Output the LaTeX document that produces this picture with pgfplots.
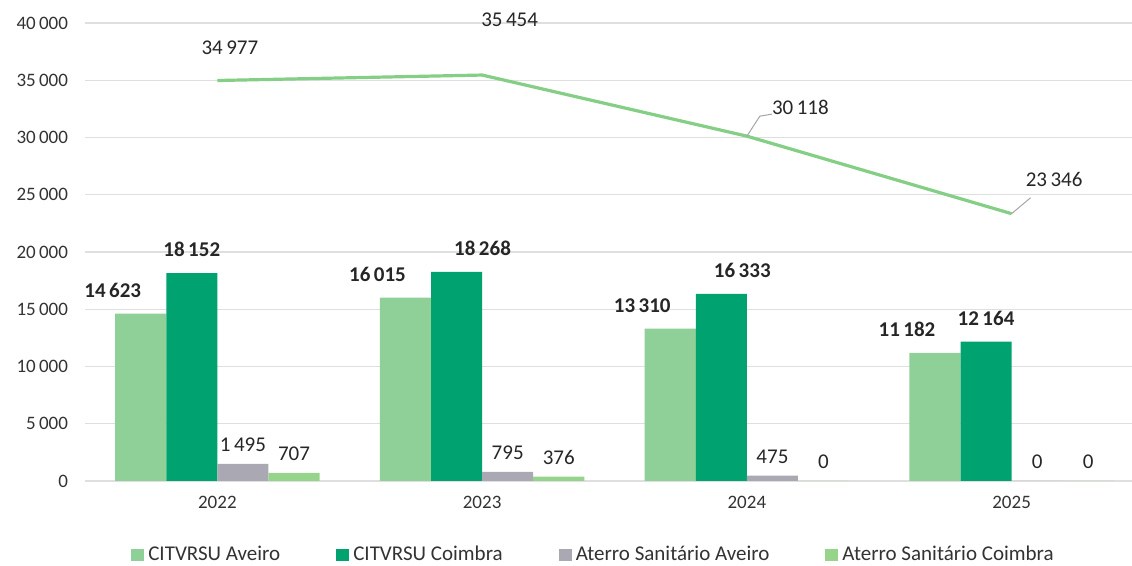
\documentclass[border=0pt]{standalone}
\usepackage{pgfplots}
\pgfplotsset{compat=1.18}
\usepackage{fontspec}
\setmainfont{Carlito}

\definecolor{cavr}{RGB}{143,207,152}
\definecolor{ccbr}{RGB}{0,162,112}
\definecolor{aavr}{RGB}{170,168,178}
\definecolor{acbr}{RGB}{150,212,140}
\definecolor{tline}{RGB}{132,206,134}

\begin{document}
\begin{tikzpicture}
\begin{axis}[
    scale only axis,
    width=529.5pt, height=229pt,
    ybar=0pt,
    bar width=0.193,
    xmin=-0.5, xmax=3.5,
    ymin=0, ymax=40000,
    ytick distance=5000,
    xtick={0,1,2,3},
    xticklabels={2022,2023,2024,2025},
    major tick length=0pt,
    ymajorgrids=true,
    grid style={draw=gray!25, line width=0.6pt},
    axis line style={draw=none},
    x axis line style={draw=gray!30},
    /pgf/number format/.cd, 1000 sep={\,}, assume math mode=true,
    /pgfplots/.cd,
    scaled y ticks=false,
    yticklabel style={font=\fontsize{9.5}{11}\selectfont, text=black!80, xshift=-5pt},
    xticklabel style={font=\fontsize{9.5}{11}\selectfont, text=black!80, yshift=-4pt},
    nodes near coords,
    nodes near coords style={font=\fontsize{10.5}{12}\selectfont, text=black!85, yshift=2.5pt, /pgf/number format/1000 sep={\,}, /pgf/number format/assume math mode=true},
    legend style={at={(0.5,0)}, anchor=center, yshift=-37pt, xshift=-10pt, draw=none, legend columns=4,
        font=\fontsize{10.5}{12}\selectfont, text=black!80,
        /tikz/every even column/.append style={column sep=26pt}},
    legend image code/.code={\fill[#1] (0pt,-3pt) rectangle (6.5pt,3pt);},
]
\addplot[fill=cavr, draw=none,
    nodes near coords style={font=\fontsize{10.5}{12}\selectfont\bfseries, yshift=2pt, xshift=-14pt}]
    coordinates {(0,14623) (1,16015) (2,13310) (3,11182)};
\addplot[fill=ccbr, draw=none,
    nodes near coords style={font=\fontsize{10.5}{12}\selectfont\bfseries, yshift=2pt},
    coordinate style/.condition={x==1}{xshift=13pt},
    coordinate style/.condition={x==2}{xshift=10.5pt}]
    coordinates {(0,18152) (1,18268) (2,16333) (3,12164)};
\addplot[fill=aavr, draw=none]
    coordinates {(0,1495) (1,795) (2,475) (3,0)};
\addplot[fill=acbr, draw=none]
    coordinates {(0,707) (1,376) (2,0) (3,0)};
\legend{CITVRSU Aveiro, CITVRSU Coimbra, Aterro Sanitário Aveiro, Aterro Sanitário Coimbra}

% total line
\addplot[sharp plot, draw=tline, line width=1.6pt, mark=none, forget plot,
    nodes near coords,
    every node near coord/.append style={anchor=south},
    coordinate style/.condition={x==0}{xshift=-6.5pt, yshift=6.5pt},
    coordinate style/.condition={x==1}{xshift=1pt, yshift=17.5pt},
    coordinate style/.condition={x==2}{anchor=west, xshift=14pt, yshift=4pt},
    coordinate style/.condition={x==3}{xshift=8.5pt, yshift=7pt},
    ]
    coordinates {(0,34977) (1,35454) (2,30118) (3,23346)};
\draw[gray!70, line width=0.5pt] (axis cs:2,30118) -- ++(6.5pt,10pt) -- ++(6pt,1pt);
\draw[gray!70, line width=0.5pt] (axis cs:3,23346) -- ++(9.5pt,8pt);
\end{axis}
\pgfresetboundingbox
\path[use as bounding box] (-42.5pt,-42.5pt) rectangle (523.5pt,240.5pt);
\end{tikzpicture}
\end{document}
